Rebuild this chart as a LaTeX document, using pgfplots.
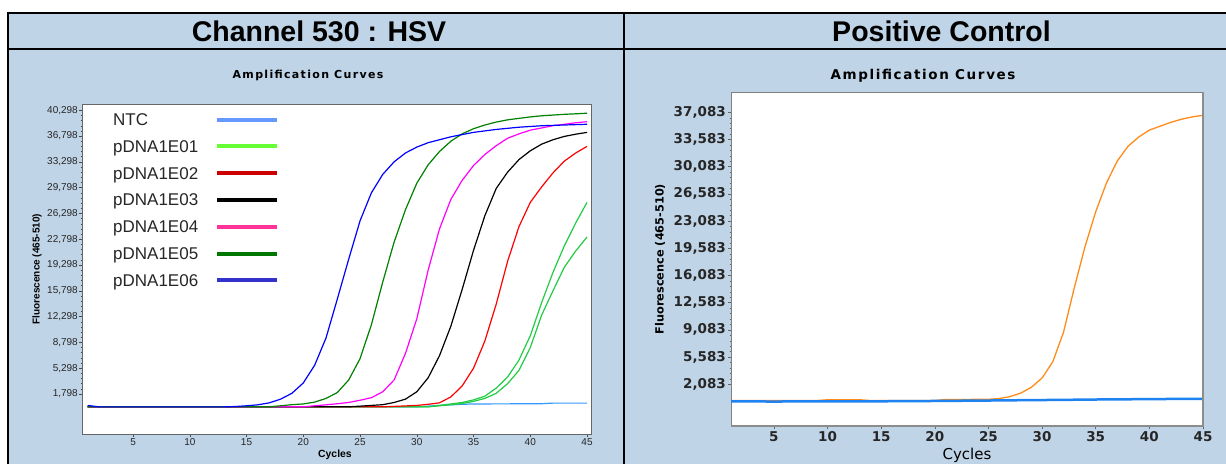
\documentclass[border=0pt]{standalone}
\usepackage{pgfplots}
\pgfplotsset{compat=1.18}
\usepackage{pgfplotstable}
\usepackage{fontspec}
\setmainfont{Liberation Sans}
\newfontfamily\dejavu{DejaVu Sans}
\newfontfamily\ttlfont[LetterSpace=12]{DejaVu Sans}

\definecolor{panelblue}{HTML}{C0D4E7}
% curve colours
\definecolor{cNTC}{HTML}{3399FF}
\definecolor{cE01}{HTML}{22CC44}
\definecolor{cE02}{HTML}{FF0000}
\definecolor{cE03}{HTML}{000000}
\definecolor{cE04}{HTML}{FF00FF}
\definecolor{cE05}{HTML}{008000}
\definecolor{cE06}{HTML}{0000FF}
% legend colours (differ slightly from the curves)
\definecolor{lNTC}{HTML}{6699FF}
\definecolor{lE01}{HTML}{66FF33}
\definecolor{lE02}{HTML}{CC0000}
\definecolor{lE03}{HTML}{000000}
\definecolor{lE04}{HTML}{FF3399}
\definecolor{lE05}{HTML}{007700}
\definecolor{lE06}{HTML}{3333CC}
\definecolor{cPos}{HTML}{FF8C1A}
\definecolor{cNeg}{HTML}{1E82F0}

% Channel 530 : HSV, fluorescence per cycle
\pgfplotstableread{
c  ntc  e01a  e01b  e02    e03    e04    e05    e06
1  60   60    60    60     60     60     60     250
2  60   60    60    60     60     60     60     50
3  60   60    60    60     60     60     60     50
4  60   60    60    60     60     60     60     50
5  60   60    60    60     60     60     60     50
6  60   60    60    60     60     60     60     50
7  60   60    60    60     60     60     60     50
8  60   60    60    60     60     60     60     50
9  60   60    60    60     60     60     60     50
10 60   60    60    60     60     60     60     50
11 60   60    60    60     60     60     60     50
12 60   60    60    60     60     60     60     50
13 60   60    60    60     60     60     60     50
14 60   60    60    60     60     60     60     100
15 60   60    60    60     60     60     60     200
16 60   60    60    60     60     60     60     330
17 60   60    60    60     60     60     60     600
18 60   60    60    60     60     60     200    1100
19 60   60    60    60     60     60     350    1900
20 60   60    60    60     60     60     450    3300
21 60   60    60    60     60     200    700    5700
22 60   60    60    60     60     330    1200   9400
23 60   60    60    60     60     480    2000   14700
24 60   60    60    60     60     650    3700   20100
25 60   60    60    60     150    950    6600   25300
26 60   60    60    60     250    1300   11200  29100
27 60   60    60    60     350    2100   17000  31600
28 60   60    60    120    650    3700   22400  33300
29 60   60    60    180    1100   7300   26800  34500
30 60   60    60    250    2100   12000  30400  35300
31 150  60    60    400    4000   18600  32900  35900
32 250  250   200   600    7000   24200  34700  36300
33 330  450   350   1400   11000  28200  36100  36700
34 400  650   500   2900   16000  30800  37100  37000
35 450  1000  800   5300   21300  32800  37800  37300
36 450  1500  1200  9000   26000  34300  38300  37500
37 460  2600  1900  14000  29700  35500  38700  37700
38 460  4100  3200  19800  31900  36500  39000  37850
39 470  6400  5000  24500  33600  37100  39200  38000
40 470  9700  8100  27800  34800  37600  39400  38100
41 480  14200 12500 29900  35700  37900  39550  38200
42 560  18300 15800 31800  36300  38200  39650  38250
43 560  21900 19000 33400  36750  38400  39750  38300
44 560  25000 21200 34500  37050  38600  39820  38350
45 560  27800 23100 35400  37300  38750  39900  38400
}\hsvdata

% Positive control
\pgfplotstableread{
c  pos    neg
1  0      -120
2  0      -120
3  0      -125
4  0      -125
5  0      -130
6  0      -125
7  0      -120
8  0      -115
9  0      -110
10 100    -110
11 100    -105
12 100    -105
13 100    -100
14 0      -100
15 0      -100
16 0      -90
17 0      -80
18 0      -70
19 0      -65
20 0      -60
21 130    -50
22 130    -35
23 140    -25
24 150    -10
25 160    0
26 250    10
27 500    25
28 950    40
29 1700   50
30 2900   60
31 5000   75
32 8800   90
33 14500  100
34 19800  115
35 24300  130
36 28000  140
37 30800  150
38 32700  160
39 33900  170
40 34800  180
41 35300  190
42 35800  200
43 36200  205
44 36500  215
45 36700  220
}\ctrldata

\begin{document}
\begin{tikzpicture}[x=1pt,y=1pt]
\useasboundingbox (0,0) rectangle (1226,-464);
\fill[white] (0,0) rectangle (1226,-464);
\fill[panelblue] (8,-13) rectangle (1226,-464);
\draw[line width=2.5pt] (8,-464) -- (8,-13) -- (1232,-13);
\draw[line width=2pt] (8,-49) -- (1232,-49);
\draw[line width=2pt] (624,-13) -- (624,-464);
\node[font=\fontsize{28.5}{30}\selectfont\bfseries] at (319,-31) {Channel 530 : HSV};
\node[font=\fontsize{28.5}{30}\selectfont\bfseries] at (941.5,-31) {Positive Control};
\node[font=\ttlfont\bfseries\fontsize{11}{12}\selectfont] at (308,-75) {Amplification Curves};
\node[font=\ttlfont\bfseries\fontsize{13.5}{14}\selectfont] at (923,-76) {Amplification Curves};

\begin{axis}[
  at={(82pt,-434pt)}, anchor=south west,
  scale only axis, width=509pt, height=330pt,
  xmin=0.5, xmax=45.35, ymin=-3630, ymax=41150,
  scaled ticks=false,
  axis background/.style={fill=white},
  axis line style={draw=black!60, line width=0.8pt},
  tick align=outside, major tick length=3pt, minor tick length=1.5pt,
  tick style={draw=black!70, line width=0.5pt},
  xtick pos=bottom, ytick pos=left,
  xtick={5,10,...,45},
  ytick={1798,5298,8798,12298,15798,19298,22798,26298,29798,33298,36798,40298},
  yticklabels={{1,798},{5,298},{8,798},{12,298},{15,798},{19,298},{22,798},{26,298},{29,798},{33,298},{36,798},{40,298}},
  minor y tick num=4,
  /pgf/number format/assume math mode=true,
  tick label style={font=\fontsize{10}{11}\selectfont, text=black!85},
  yticklabel style={inner sep=1pt},
  xticklabel style={inner sep=1.5pt},
  xlabel={Cycles},
  xlabel style={font=\bfseries\fontsize{10.4}{11}\selectfont, at={(axis description cs:0.497,-0.0636)}, anchor=center},
  ylabel={Fluorescence (465-510)},
  ylabel style={font=\bfseries\fontsize{10}{11}\selectfont, at={(axis description cs:-0.0884,0.5)}, anchor=center},
  legend plot pos=right,
  legend image code/.code={\draw[#1] (0pt,0pt) -- (60pt,0pt);},
  legend style={at={(axis description cs:0.0609,0.9718)}, anchor=north west,
    draw=none, fill=none, inner sep=0pt,
    font=\fontsize{17}{18}\selectfont, text=black!85,
    row sep=14.8pt, column sep=17pt,
    cells={anchor=west},
    nodes={inner sep=0pt, text height=12pt, text depth=0pt}},
]
\addlegendimage{lNTC, line width=4pt}\addlegendentry{NTC}
\addlegendimage{lE01, line width=4pt}\addlegendentry{pDNA1E01}
\addlegendimage{lE02, line width=4pt}\addlegendentry{pDNA1E02}
\addlegendimage{lE03, line width=4pt}\addlegendentry{pDNA1E03}
\addlegendimage{lE04, line width=4pt}\addlegendentry{pDNA1E04}
\addlegendimage{lE05, line width=4pt}\addlegendentry{pDNA1E05}
\addlegendimage{lE06, line width=4pt}\addlegendentry{pDNA1E06}
\addplot[cNTC, line width=1.2pt, forget plot] table[x=c, y=ntc] {\hsvdata};
\addplot[cE01, line width=1.2pt, forget plot] table[x=c, y=e01a] {\hsvdata};
\addplot[cE01, line width=1.2pt, forget plot] table[x=c, y=e01b] {\hsvdata};
\addplot[cE02, line width=1.2pt, forget plot] table[x=c, y=e02] {\hsvdata};
\addplot[cE03, line width=1.2pt, forget plot] table[x=c, y=e03] {\hsvdata};
\addplot[cE04, line width=1.2pt, forget plot] table[x=c, y=e04] {\hsvdata};
\addplot[cE05, line width=1.2pt, forget plot] table[x=c, y=e05] {\hsvdata};
\addplot[cE06, line width=1.2pt, forget plot] table[x=c, y=e06] {\hsvdata};
\end{axis}

\begin{axis}[
  at={(731pt,-426pt)}, anchor=south west,
  scale only axis, width=472pt, height=334pt,
  xmin=1, xmax=45, ymin=-3280, ymax=39700,
  scaled ticks=false,
  axis background/.style={fill=white},
  axis line style={draw=black!50, line width=0.8pt},
  tick align=outside, major tick length=3pt, minor tick length=1.5pt,
  tick style={draw=black!60, line width=0.5pt},
  xtick pos=bottom, ytick pos=left,
  xtick={5,10,...,45},
  ytick={2083,5583,9083,12583,16083,19583,23083,26583,30083,33583,37083},
  yticklabels={{2,083},{5,583},{9,083},{12,583},{16,083},{19,583},{23,083},{26,583},{30,083},{33,583},{37,083}},
  minor y tick num=4,
  /pgf/number format/assume math mode=true,
  tick label style={font=\dejavu\bfseries\fontsize{13.5}{14}\selectfont, text=black!85},
  yticklabel style={inner sep=2pt},
  xticklabel style={inner sep=2pt},
  xlabel={Cycles},
  xlabel style={font=\dejavu\fontsize{15}{16}\selectfont, at={(axis description cs:0.5,-0.0868)}, anchor=center},
  ylabel={Fluorescence (465-510)},
  ylabel style={font=\dejavu\bfseries\fontsize{11.3}{12}\selectfont, at={(axis description cs:-0.1504,0.5)}, anchor=center},
  after end axis/.code={
    \draw[black!45, line width=2.5pt] (axis description cs:0,0) -- (axis description cs:1,0) -- (axis description cs:1,1);
  },
]
\addplot[cPos, line width=1.3pt] table[x=c, y=pos] {\ctrldata};
\addplot[cNeg, line width=2.5pt] table[x=c, y=neg] {\ctrldata};
\end{axis}
\end{tikzpicture}
\end{document}
